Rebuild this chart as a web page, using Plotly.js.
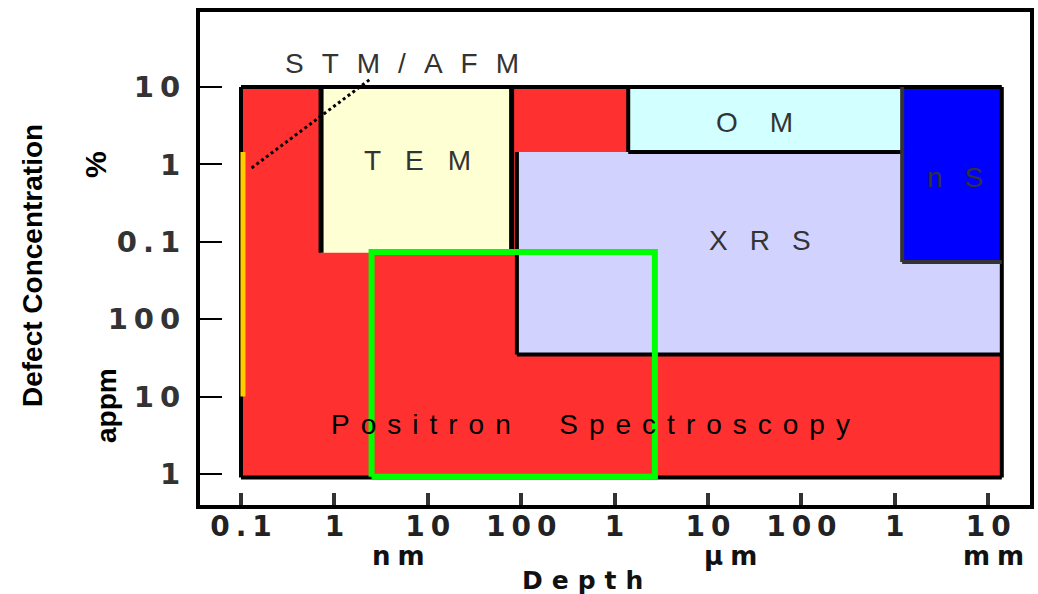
<!DOCTYPE html>
<html><head><meta charset="utf-8">
<script src="https://cdn.plot.ly/plotly-3.0.1.min.js"></script>
<style>html,body{margin:0;padding:0;background:#fff;overflow:hidden}</style>
</head><body><div id="chart" style="width:1038px;height:594px"></div>
<script>
// ---------- data ----------
const regionNames   = ['Positron Spectroscopy', 'TEM', 'OM', 'XRS', 'nS'];
const depthMinNm    = [0.1,   0.72, 1400,   90,    1.2e6];
const depthMaxNm    = [1.4e7, 79,   1.2e6,  1.4e7, 1.4e7];
const concMinAppm   = [0.9,   720,  14500,  35,    550];
const concMaxAppm   = [1e5,   1e5,  1e5,    14500, 1e5];
const labelDepthNm  = [558,   7.85, 31800,  36000, 4.4e6];
const labelConcAppm = [4.3,   11400, 35300, 1055,  6870];

const focusDepthNm   = [2.5, 2700];
const focusConcAppm  = [0.92, 740];

const stmStripDepthNm   = [0.105, 0.105];
const stmStripConcAppm  = [10, 14500];
const stmPointerDepthNm = [0.13, 2.5];
const stmPointerConcAppm= [9000, 1.3e5];
const stmLabel = 'STM/AFM';
const stmLabelDepthNm = 5.3;
const stmLabelConcAppm = 2.04e5;

const depthTickVals = [0.1, 1, 10, 100, 1e3, 1e4, 1e5, 1e6, 1e7];
const depthTickText = ['0.1', '1', '10', '100', '1', '10', '100', '1', '10'];
const depthUnitLabels = ['nm', 'µm', 'mm'];
const depthUnitPosNm  = [4.8, 17600, 1.15e7];

const concTickVals = [1e5, 1e4, 1e3, 100, 10, 1];
const concTickText = ['10', '1', '0.1', '100', '10', '1'];

// ---------- styles ----------
const regionFill = ['#ff3030', '#ffffd4', '#d2ffff', '#d2d2ff', '#0000ff'];
const regionBorder = [
  {sides: ['left', 'right', 'top', 'bottom'], color: '#000', width: 4},
  {sides: ['left', 'right'], color: '#000', width: 5},
  {sides: ['left', 'bottom'], color: '#000', width: 4},
  {sides: ['left', 'bottom'], color: '#000', width: 4},
  {sides: ['left', 'bottom'], color: '#333', width: 4}
];
const labelStyle = [
  {size: 28, ls: 11, color: '#000'},
  {size: 28, ls: 24, color: '#333'},
  {size: 28, ls: 32, color: '#333'},
  {size: 28, ls: 22, color: '#333'},
  {size: 28, ls: 22, color: '#333'}
];
const FONT = 'Liberation Sans, Arial, sans-serif';
const BOLDFONT = 'DejaVu Sans, Liberation Sans, sans-serif';

function spaced(str, ls) {
  if (str.length < 2) return str;
  return '<span style="letter-spacing:' + ls + 'px">' + str.slice(0, -1) + '</span>' + str.slice(-1);
}

const traces = [];
regionNames.forEach((name, i) => {
  const x0 = depthMinNm[i], x1 = depthMaxNm[i], y0 = concMinAppm[i], y1 = concMaxAppm[i];
  traces.push({
    type: 'scatter', mode: 'lines', name: name,
    x: [x0, x1, x1, x0, x0], y: [y0, y0, y1, y1, y0],
    fill: 'toself', fillcolor: regionFill[i],
    line: {width: 0}, hoverinfo: 'skip', showlegend: false
  });
});
regionNames.forEach((name, i) => {
  const x0 = depthMinNm[i], x1 = depthMaxNm[i], y0 = concMinAppm[i], y1 = concMaxAppm[i];
  const segs = {left: [[x0, y0], [x0, y1]], right: [[x1, y0], [x1, y1]], top: [[x0, y1], [x1, y1]], bottom: [[x0, y0], [x1, y0]]};
  const bx = [], by = [];
  regionBorder[i].sides.forEach(s => {
    bx.push(segs[s][0][0], segs[s][1][0], null);
    by.push(segs[s][0][1], segs[s][1][1], null);
  });
  traces.push({
    type: 'scatter', mode: 'lines', x: bx, y: by, connectgaps: false,
    line: {color: regionBorder[i].color, width: regionBorder[i].width},
    hoverinfo: 'skip', showlegend: false
  });
});
traces.push({type: 'scatter', mode: 'lines', x: stmStripDepthNm, y: stmStripConcAppm,
  line: {color: '#ffcc00', width: 5}, hoverinfo: 'skip', showlegend: false});
traces.push({type: 'scatter', mode: 'lines', x: stmPointerDepthNm, y: stmPointerConcAppm,
  line: {color: '#000', width: 3, dash: 'dot'}, hoverinfo: 'skip', showlegend: false});
traces.push({type: 'scatter', mode: 'lines',
  x: [focusDepthNm[0], focusDepthNm[1], focusDepthNm[1], focusDepthNm[0], focusDepthNm[0]],
  y: [focusConcAppm[0], focusConcAppm[0], focusConcAppm[1], focusConcAppm[1], focusConcAppm[0]],
  line: {color: '#00ff00', width: 6}, hoverinfo: 'skip', showlegend: false});

const annotations = [];
regionNames.forEach((name, i) => {
  const st = labelStyle[i];
  const txt = name.replace(' ', '\u00A0\u00A0');
  annotations.push({
    x: Math.log10(labelDepthNm[i]), y: Math.log10(labelConcAppm[i]), xref: 'x', yref: 'y',
    text: spaced(txt, st.ls), showarrow: false, xanchor: 'center', yanchor: 'middle',
    font: {family: FONT, size: st.size, color: st.color}
  });
});
annotations.push({
  x: Math.log10(stmLabelDepthNm), y: Math.log10(stmLabelConcAppm), xref: 'x', yref: 'y',
  text: spaced(stmLabel, 18), showarrow: false, xanchor: 'center', yanchor: 'middle',
  font: {family: FONT, size: 28, color: '#333'}
});
depthUnitLabels.forEach((u, i) => {
  annotations.push({
    x: Math.log10(depthUnitPosNm[i]), y: -0.103, xref: 'x', yref: 'paper',
    text: spaced(u, 7), showarrow: false, xanchor: 'center', yanchor: 'middle',
    font: {family: BOLDFONT, size: 26, color: '#111', weight: 'bold'}
  });
});
annotations.push({
  x: 0.4614, y: -0.119, xref: 'paper', yref: 'paper', text: spaced('Depth', 9),
  showarrow: false, xanchor: 'center', yanchor: 'top',
  font: {family: BOLDFONT, size: 25, color: '#111', weight: 'bold'}
});
annotations.push({
  x: -0.2012, y: 0.4848, xref: 'paper', yref: 'paper', text: 'Defect Concentration',
  textangle: -90, showarrow: false, xanchor: 'center', yanchor: 'middle',
  font: {family: FONT, size: 28, color: '#000', weight: 'bold'}
});
annotations.push({
  x: -0.125, y: 0.690, xref: 'paper', yref: 'paper', text: '%',
  textangle: -90, showarrow: false, xanchor: 'center', yanchor: 'middle',
  font: {family: FONT, size: 30, color: '#000', weight: 'bold'}
});
annotations.push({
  x: -0.1133, y: 0.2028, xref: 'paper', yref: 'paper', text: 'appm',
  textangle: -90, showarrow: false, xanchor: 'center', yanchor: 'middle',
  font: {family: FONT, size: 28, color: '#000', weight: 'bold'}
});

const layout = {
  width: 1038, height: 594,
  margin: {l: 200, r: 8, t: 12, b: 89, pad: 0},
  paper_bgcolor: '#fff', plot_bgcolor: '#fff',
  showlegend: false,
  xaxis: {
    type: 'log', range: [-1.439, 7.448], tickmode: 'array',
    tickvals: depthTickVals, ticktext: depthTickText.map(t => spaced(t, 6)),
    ticks: 'inside', ticklen: 12, tickwidth: 4, tickcolor: '#333',
    showline: true, linewidth: 4, linecolor: '#000', mirror: true,
    showgrid: false, zeroline: false, ticklabelstandoff: -7,
    tickfont: {family: BOLDFONT, size: 28, color: '#222', weight: 'bold'}
  },
  yaxis: {
    type: 'log', range: [-0.4005, 5.969], tickmode: 'array',
    tickvals: concTickVals, ticktext: concTickText.map(t => spaced(t, 6)),
    ticks: 'inside', ticklen: 22, tickwidth: 2, tickcolor: '#000',
    showline: true, linewidth: 4, linecolor: '#000', mirror: true,
    showgrid: false, zeroline: false, ticklabelstandoff: 10,
    tickfont: {family: BOLDFONT, size: 29, color: '#333', weight: 'bold'}
  },
  annotations: annotations
};

Plotly.newPlot('chart', traces, layout, {staticPlot: true, displayModeBar: false});
</script>
</body></html>
